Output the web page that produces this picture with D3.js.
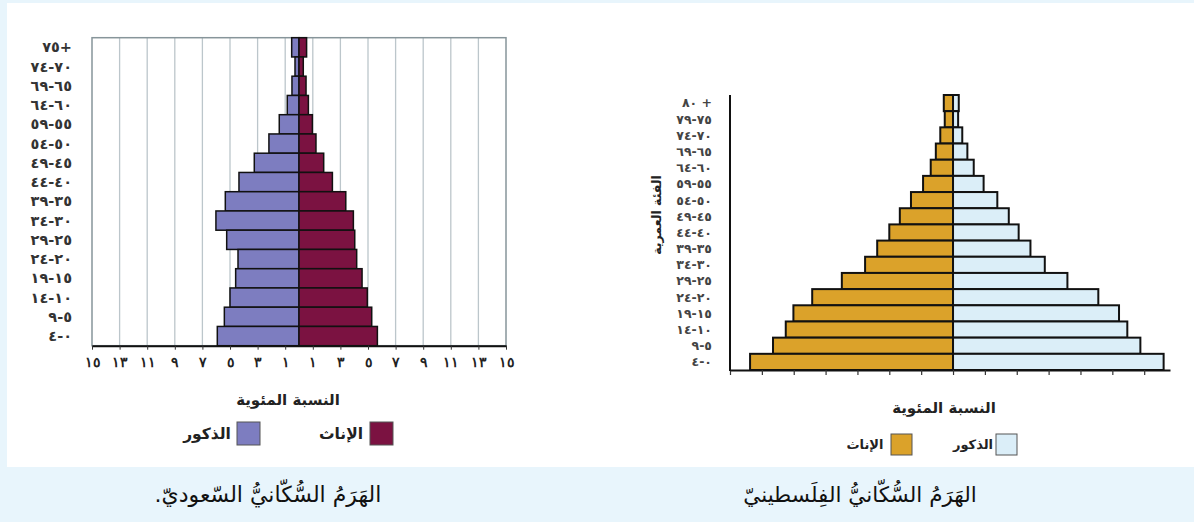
<!DOCTYPE html>
<html lang="ar">
<head>
<meta charset="utf-8">
<script src="https://cdn.jsdelivr.net/npm/d3@7"></script>
<style>
  html, body { margin: 0; padding: 0; background: #e8f5fc; }
  svg { display: block; font-family: "DejaVu Sans", sans-serif; }
</style>
</head>
<body>
<div id="chart"></div>
<script>
// Saudi pyramid (left) - age groups top to bottom, percent
var saAges = ["٧٥+", "٧٤-٧٠", "٦٩-٦٥", "٦٤-٦٠", "٥٩-٥٥", "٥٤-٥٠", "٤٩-٤٥", "٤٤-٤٠",
  "٣٩-٣٥", "٣٤-٣٠", "٢٩-٢٥", "٢٤-٢٠", "١٩-١٥", "١٤-١٠", "٩-٥", "٤-٠"];
var saMales = [0.53, 0.29, 0.51, 0.85, 1.43, 2.18, 3.24, 4.35, 5.34, 6.02, 5.24, 4.42, 4.59, 5.0, 5.41, 5.92];
var saFemales = [0.55, 0.31, 0.51, 0.68, 0.97, 1.23, 1.79, 2.42, 3.39, 3.94, 4.04, 4.18, 4.57, 4.95, 5.27, 5.68];
var saTicks = [-15, -13, -11, -9, -7, -5, -3, -1, 1, 3, 5, 7, 9, 11, 13, 15];

// Palestinian pyramid (right)
var psAges = ["٨٠ +", "٧٩-٧٥", "٧٤-٧٠", "٦٩-٦٥", "٦٤-٦٠", "٥٩-٥٥", "٥٤-٥٠", "٤٩-٤٥", "٤٤-٤٠",
  "٣٩-٣٥", "٣٤-٣٠", "٢٩-٢٥", "٢٤-٢٠", "١٩-١٥", "١٤-١٠", "٩-٥", "٤-٠"];
var psFemales = [0.29, 0.26, 0.40, 0.54, 0.70, 0.94, 1.32, 1.67, 2.0, 2.38, 2.76, 3.49, 4.42, 5.01, 5.25, 5.65, 6.37];
var psMales = [0.18, 0.16, 0.29, 0.45, 0.65, 0.96, 1.39, 1.75, 2.06, 2.43, 2.88, 3.59, 4.56, 5.21, 5.47, 5.88, 6.61];
var psTicks = [-7, -6, -5, -4, -3, -2, -1, 0, 1, 2, 3, 4, 5, 6];

function arDigits(n) {
  return String(n).replace(/\d/g, function (c) { return "٠١٢٣٤٥٦٧٨٩"[c]; });
}

var svg = d3.select("#chart").append("svg")
  .attr("width", 1194)
  .attr("height", 522);

svg.append("rect").attr("x", 0).attr("y", 0).attr("width", 1194).attr("height", 522).attr("fill", "#e8f5fc");
svg.append("rect").attr("x", 7).attr("y", 3).attr("width", 1187).attr("height", 464).attr("fill", "#ffffff");

// ---------- left chart ----------
var xL = d3.scaleLinear().domain([-15, 15]).range([92, 506]);
var yL = d3.scaleBand().domain(saAges).range([37.7, 345.7]).padding(0);
var gL = svg.append("g");

gL.selectAll(".grid")
  .data(saTicks.filter(function (d) { return Math.abs(d) < 15; }))
  .enter().append("line")
  .attr("x1", function (d) { return xL(d); })
  .attr("x2", function (d) { return xL(d); })
  .attr("y1", 37.7).attr("y2", 345.7)
  .style("stroke", "#bcc6cb").style("stroke-width", 1.3);

gL.append("rect")
  .attr("x", xL(-15)).attr("y", 37.7)
  .attr("width", xL(15) - xL(-15)).attr("height", 308)
  .style("fill", "none").style("stroke", "#87959a").style("stroke-width", 1.5);

gL.selectAll(".male")
  .data(saMales).enter().append("rect")
  .attr("x", function (d) { return xL(-d); })
  .attr("y", function (d, i) { return yL(saAges[i]); })
  .attr("width", function (d) { return xL(0) - xL(-d); })
  .attr("height", yL.bandwidth())
  .style("fill", "#7d7dc0").style("stroke", "#111").style("stroke-width", 1.5);

gL.selectAll(".female")
  .data(saFemales).enter().append("rect")
  .attr("x", xL(0))
  .attr("y", function (d, i) { return yL(saAges[i]); })
  .attr("width", function (d) { return xL(d) - xL(0); })
  .attr("height", yL.bandwidth())
  .style("fill", "#7b1241").style("stroke", "#111").style("stroke-width", 1.5);

var axL = gL.append("g")
  .attr("transform", "translate(0,345.7)")
  .call(d3.axisBottom(xL).tickValues(saTicks).tickSize(4).tickSizeOuter(0)
    .tickFormat(function (d) { return arDigits(Math.abs(d)); }));
axL.select(".domain").style("stroke", "#111").style("stroke-width", 2);
axL.selectAll(".tick line").style("stroke", "#333");
axL.selectAll(".tick text")
  .attr("y", 11)
  .style("font-size", "14px").style("font-weight", "bold").style("fill", "#222");

gL.selectAll(".agelabel")
  .data(saAges).enter().append("text")
  .attr("x", 72)
  .attr("y", function (d) { return yL(d) + yL.bandwidth() / 2; })
  .attr("dy", "0.35em")
  .attr("text-anchor", "end")
  .attr("direction", "ltr")
  .attr("unicode-bidi", "bidi-override")
  .style("font-size", "14.5px").style("font-weight", "bold").style("fill", "#333")
  .text(function (d) { return d; });

gL.append("text")
  .attr("x", 288).attr("y", 400).attr("dy", "0.35em")
  .attr("text-anchor", "middle").attr("direction", "rtl")
  .style("font-size", "15px").style("font-weight", "bold").style("fill", "#222")
  .text("النسبة المئوية");

var legL = [
  { label: "الإناث", color: "#7b1241", box: 370, text: 341 },
  { label: "الذكور", color: "#7d7dc0", box: 237, text: 207 }
];
gL.selectAll(".legbox").data(legL).enter().append("rect")
  .attr("x", function (d) { return d.box; }).attr("y", 422)
  .attr("width", 23).attr("height", 23)
  .style("fill", function (d) { return d.color; })
  .style("stroke", "#555").style("stroke-width", 1);
gL.selectAll(".legtext").data(legL).enter().append("text")
  .attr("x", function (d) { return d.text; }).attr("y", 433.5).attr("dy", "0.35em")
  .attr("text-anchor", "middle").attr("direction", "rtl")
  .style("font-size", "15.5px").style("font-weight", "bold").style("fill", "#222")
  .text(function (d) { return d.label; });

// ---------- right chart ----------
var xR = d3.scaleLinear().domain([-7, 6.81]).range([730, 1170]);
var yR = d3.scaleBand().domain(psAges).range([95, 370]).padding(0);
var gR = svg.append("g");

gR.selectAll(".female")
  .data(psFemales).enter().append("rect")
  .attr("x", function (d) { return xR(-d); })
  .attr("y", function (d, i) { return yR(psAges[i]); })
  .attr("width", function (d) { return xR(0) - xR(-d); })
  .attr("height", yR.bandwidth())
  .style("fill", "#dba22a").style("stroke", "#111").style("stroke-width", 2);

gR.selectAll(".male")
  .data(psMales).enter().append("rect")
  .attr("x", xR(0))
  .attr("y", function (d, i) { return yR(psAges[i]); })
  .attr("width", function (d) { return xR(d) - xR(0); })
  .attr("height", yR.bandwidth())
  .style("fill", "#dbeef8").style("stroke", "#111").style("stroke-width", 2);

var axR = gR.append("g")
  .attr("transform", "translate(0,370)")
  .call(d3.axisBottom(xR).tickValues(psTicks).tickSize(5).tickSizeOuter(0).tickFormat(""));
axR.select(".domain").style("stroke", "#111").style("stroke-width", 2);
axR.selectAll(".tick line").style("stroke", "#333").style("stroke-width", 1.2);

gR.append("line")
  .attr("x1", 730).attr("x2", 730).attr("y1", 95).attr("y2", 371)
  .style("stroke", "#111").style("stroke-width", 2);

gR.selectAll(".agelabel")
  .data(psAges).enter().append("text")
  .attr("x", 712)
  .attr("y", function (d) { return yR(d) + yR.bandwidth() / 2; })
  .attr("dy", "0.35em")
  .attr("text-anchor", "end")
  .attr("direction", "ltr")
  .attr("unicode-bidi", "bidi-override")
  .style("font-size", "12.5px").style("font-weight", "bold").style("fill", "#444")
  .text(function (d) { return d; });

gR.append("text")
  .attr("transform", "translate(657,215) rotate(-90)")
  .attr("dy", "0.35em")
  .attr("text-anchor", "middle").attr("direction", "rtl")
  .style("font-size", "12.5px").style("font-weight", "bold").style("fill", "#222")
  .text("الفئة العمرية");

gR.append("text")
  .attr("x", 944).attr("y", 408).attr("dy", "0.35em")
  .attr("text-anchor", "middle").attr("direction", "rtl")
  .style("font-size", "15px").style("font-weight", "bold").style("fill", "#222")
  .text("النسبة المئوية");

var legR = [
  { label: "الذكور", color: "#dbeef8", box: 996, text: 973 },
  { label: "الإناث", color: "#dba22a", box: 891, text: 865 }
];
gR.selectAll(".legbox").data(legR).enter().append("rect")
  .attr("x", function (d) { return d.box; }).attr("y", 434)
  .attr("width", 21).attr("height", 21)
  .style("fill", function (d) { return d.color; })
  .style("stroke", "#555").style("stroke-width", 1);
gR.selectAll(".legtext").data(legR).enter().append("text")
  .attr("x", function (d) { return d.text; }).attr("y", 444.5).attr("dy", "0.35em")
  .attr("text-anchor", "middle").attr("direction", "rtl")
  .style("font-size", "13px").style("font-weight", "bold").style("fill", "#222")
  .text(function (d) { return d.label; });

// captions
svg.append("text")
  .attr("x", 268).attr("y", 502)
  .attr("text-anchor", "middle").attr("direction", "rtl")
  .style("font-size", "22px").style("fill", "#111")
  .text("الهَرَمُ السُّكّانيُّ السّعوديّ.");
svg.append("text")
  .attr("x", 860).attr("y", 502)
  .attr("text-anchor", "middle").attr("direction", "rtl")
  .style("font-size", "21.5px").style("fill", "#111")
  .text("الهَرَمُ السُّكّانيُّ الفِلَسطينيّ");
</script>
</body>
</html>
